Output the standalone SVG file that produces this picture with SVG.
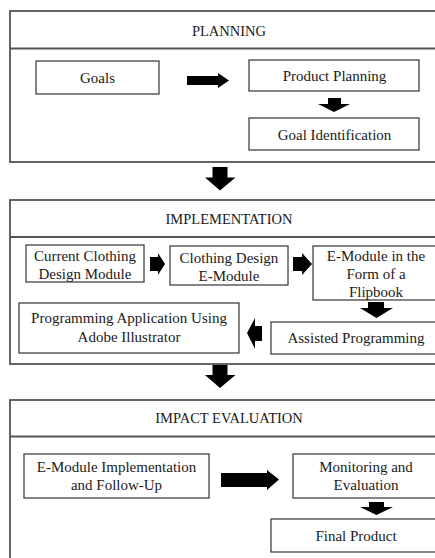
<svg xmlns="http://www.w3.org/2000/svg" width="435" height="558" viewBox="0 0 435 558">
<style>
.sec{fill:none;stroke:#555;stroke-width:1.8}
.box{fill:#fff;stroke:#333;stroke-width:1.2}
text{font-family:'Liberation Serif','Times New Roman',serif;font-size:15px;fill:#1a1a1a;text-anchor:middle}
text.h{font-size:14.5px}
.arr{fill:#000}
</style>
<rect width="435" height="558" fill="#fff"/>
<g id="sec-planning">
<rect class="sec" x="10" y="11" width="438" height="151"/>
<line class="sec" x1="10" y1="48.5" x2="448" y2="48.5"/>
<text class="h" x="229" y="36">PLANNING</text>
</g>
<g id="sec-implementation">
<rect class="sec" x="10" y="200" width="438" height="164"/>
<line class="sec" x1="10" y1="237" x2="448" y2="237"/>
<text class="h" x="229" y="224">IMPLEMENTATION</text>
</g>
<g id="sec-impact">
<rect class="sec" x="10" y="400" width="438" height="170"/>
<line class="sec" x1="10" y1="436.5" x2="448" y2="436.5"/>
<text class="h" x="229" y="423">IMPACT EVALUATION</text>
</g>
<g id="goals"><rect class="box" x="36" y="61" width="123" height="33"/><text x="97.5" y="83">Goals</text></g>
<g id="product-planning"><rect class="box" x="249" y="60" width="170" height="31"/><text x="334.5" y="81">Product Planning</text></g>
<g id="goal-identification"><rect class="box" x="249" y="118" width="170" height="32"/><text x="334.5" y="139.5">Goal Identification</text></g>
<g id="current-module"><rect class="box" x="26" y="245" width="118" height="37"/><text x="85" y="261">Current Clothing</text><text x="85" y="278.5">Design Module</text></g>
<g id="design-emodule"><rect class="box" x="170" y="246" width="118" height="39"/><text x="229" y="263">Clothing Design</text><text x="229" y="281">E-Module</text></g>
<g id="flipbook"><rect class="box" x="313" y="246" width="127" height="54"/><text x="376" y="261">E-Module in the</text><text x="376" y="279">Form of a</text><text x="376" y="297">Flipbook</text></g>
<g id="assisted"><rect class="box" x="271" y="322" width="170" height="32"/><text x="356" y="342.5">Assisted Programming</text></g>
<g id="illustrator"><rect class="box" x="19" y="303" width="220" height="50"/><text x="129" y="323">Programming Application Using</text><text x="129" y="342">Adobe Illustrator</text></g>
<g id="implementation-followup"><rect class="box" x="24" y="454" width="185" height="44"/><text x="116.5" y="472">E-Module Implementation</text><text x="116.5" y="490">and Follow-Up</text></g>
<g id="monitoring"><rect class="box" x="293" y="454" width="146" height="44"/><text x="366" y="472">Monitoring and</text><text x="366" y="490">Evaluation</text></g>
<g id="final-product"><rect class="box" x="271" y="519" width="170" height="33"/><text x="356" y="541">Final Product</text></g>
<g id="connectors" class="arr">
<polygon points="187,76 218,76 218,73 229,80.5 218,88 218,85 187,85"/>
<polygon points="328,98 341,98 341,104 350,104 334,112 318,104 328,104"/>
<polygon points="212.5,167 227.5,167 227.5,177.5 235.5,177.5 220,190.5 205,177.5 212.5,177.5"/>
<polygon points="150,257 158,257 158,253 165,264 158,275 158,271 150,271"/>
<polygon points="293,257 302,257 302,253 312,264 302,275 302,271 293,271"/>
<polygon points="368,302 384,302 384,308 393,308 376.5,318 360,308 368,308"/>
<polygon points="262,326 255,326 255,318 247,333 255,349 255,341 262,341"/>
<polygon points="212.5,365 227.5,365 227.5,375 235.5,375 220,388 205,375 212.5,375"/>
<polygon points="221,473 267,473 267,470 279,479.5 267,490 267,487 221,487"/>
<polygon points="369,502 384,502 384,507 393,507 376.5,515 360,507 369,507"/>
</g>
</svg>
